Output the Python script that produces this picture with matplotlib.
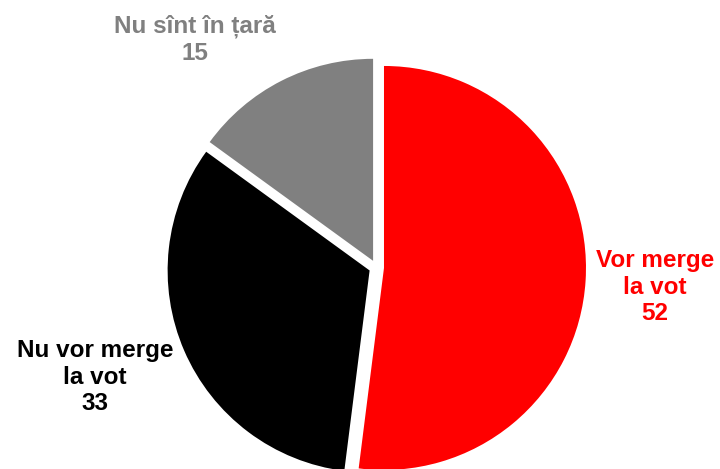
import matplotlib
matplotlib.use('Agg')
import matplotlib.pyplot as plt

labels = ['Vor merge\nla vot', 'Nu vor merge\nla vot', 'Nu sînt în țară']
values = [52, 33, 15]
colors = ['#ff0000', '#000000', '#808080']

plt.rcParams['font.family'] = ['Liberation Sans', 'DejaVu Sans']

fig = plt.figure(figsize=(7.2, 4.69), dpi=100)
ax = fig.add_axes([0, 0, 1, 1])

# pie in pixel-like data coords, bottom is cut off by the figure
# explode is absolute here (data units), not a fraction of radius
ax.pie(values, colors=colors, startangle=90, counterclock=False,
       explode=[7.5] * 3, center=(376.5, 201.5), radius=202,
       wedgeprops=dict(linewidth=0))
ax.set_xlim(0, 720)
ax.set_ylim(0, 469)
ax.set_aspect('equal')
ax.axis('off')

# label spots (x, y from top)
spots = [(655, 287), (95, 377), (195, 40)]
for lab, val, col, (x, y) in zip(labels, values, colors, spots):
    ax.text(x, 469 - y, f'{lab}\n{val}', color=col, fontsize=17.5,
            fontweight='bold', ha='center', va='center', linespacing=1.22)

fig.savefig('out.png', dpi=100)
